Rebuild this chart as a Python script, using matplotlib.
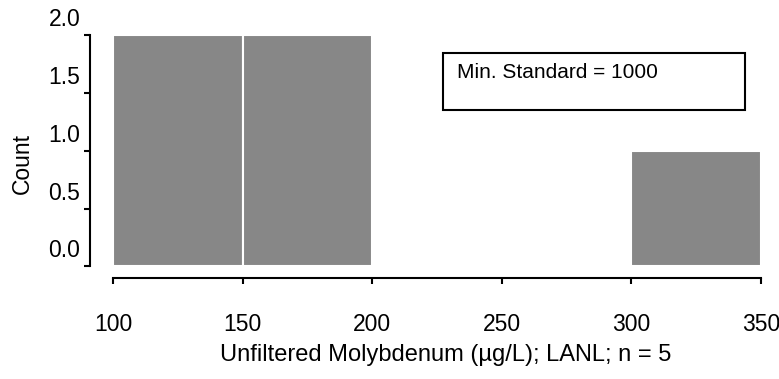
import matplotlib
matplotlib.use("Agg")
import matplotlib.pyplot as plt
import matplotlib.transforms as mtransforms
from matplotlib.patches import Rectangle

plt.rcParams["font.family"] = ["Liberation Sans", "DejaVu Sans"]

# histogram bins (ug/L) and counts
bin_left = [100, 150, 300]
bin_width = [50, 50, 50]
counts = [2, 2, 1]

x_ticks = [100, 150, 200, 250, 300, 350]
y_ticks = [0.0, 0.5, 1.0, 1.5, 2.0]
x_label = "Unfiltered Molybdenum (\u00b5g/L); LANL; n = 5"
note = "Min. Standard = 1000"

fig = plt.figure(figsize=(7.79, 3.79), dpi=100)
ax = fig.add_axes([0.1155, 0.2665, 0.8627, 0.6412])

ax.bar(bin_left, counts, width=bin_width, align="edge",
       color="#878787", edgecolor="white", linewidth=1.5)

ax.set_xlim(91.1, 350.5)
ax.set_ylim(-0.1, 2.0)

for s in ("top", "right"):
    ax.spines[s].set_visible(False)
ax.spines["left"].set_bounds(0, 2)
ax.spines["bottom"].set_bounds(100, 350)
for s in ("left", "bottom"):
    ax.spines[s].set_linewidth(1.5)

ax.set_xticks(x_ticks)
ax.set_yticks(y_ticks)
ax.set_yticklabels([f"{v:.1f}" for v in y_ticks])
ax.tick_params(axis="x", length=4, width=1.5, labelsize=16.5, pad=21)
ax.tick_params(axis="y", length=4, width=1.5, labelsize=16.5, pad=3)

# scanned original has y labels sitting above their ticks
shift = mtransforms.ScaledTranslation(0, 0.18, fig.dpi_scale_trans)
for lab in ax.get_yticklabels():
    lab.set_transform(lab.get_transform() + shift)

ax.set_xlabel(x_label, fontsize=17)
ax.set_ylabel("Count", fontsize=16.5)
ax.xaxis.set_label_coords(0.53, -0.27)
ax.yaxis.set_label_coords(-0.084, 0.47)

ax.add_patch(Rectangle((0.525, 0.691), 0.45, 0.235, transform=ax.transAxes,
                       fill=False, edgecolor="black", linewidth=1.5, clip_on=False))
ax.text(0.546, 0.844, note, transform=ax.transAxes, fontsize=15,
        va="center", ha="left")

fig.savefig("out.png", dpi=100)
